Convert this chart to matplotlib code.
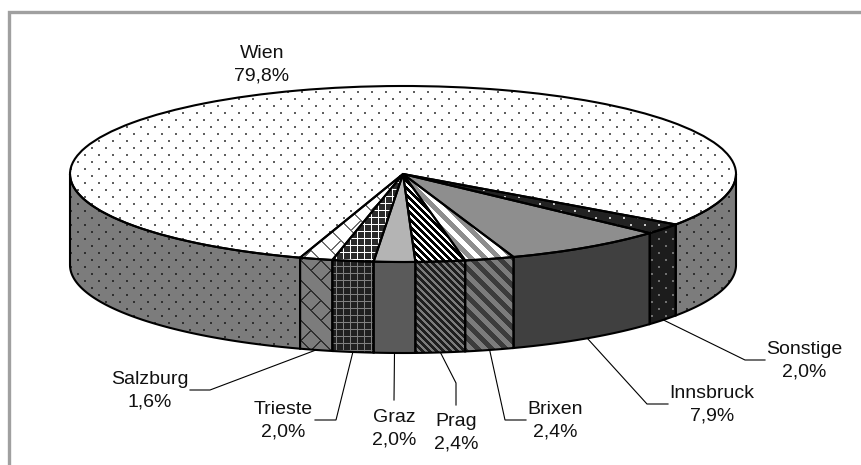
import numpy as np
import matplotlib
matplotlib.use('Agg')
import matplotlib.pyplot as plt
from matplotlib.patches import Polygon

plt.rcParams['font.family'] = ['Liberation Sans', 'DejaVu Sans']

# clockwise from the right hand end of Wien
names = ['Sonstige', 'Innsbruck', 'Brixen', 'Prag', 'Graz', 'Trieste', 'Salzburg', 'Wien']
shares = [2.0, 7.9, 2.4, 2.4, 2.0, 2.0, 1.6, 79.8]
shares_txt = ['2,0%', '7,9%', '2,4%', '2,4%', '2,0%', '2,0%', '1,6%', '79,8%']

W, H = 861, 465
CX, CY, RX, RY = 403, 174, 333, 88
DEPTH = 91

def xp(x):
    return (np.asarray(x, dtype=float) - CX) / RX

def yp(y):
    return (CY - np.asarray(y, dtype=float)) / RY

# pixel tile masks
X, Y = np.meshgrid(np.arange(W), np.arange(H))

def dots():
    return (Y % 7 < 2) & ((X + 7 * ((Y // 7) % 2)) % 14 < 2)

def stripes(period, width):
    return (X - Y) % period < width

def grid():
    return (X % 7 == 0) | (Y % 7 == 0)

def lattice():
    return ((X - Y) % 20 < 2) | (((X + Y) % 20 < 2) & ((X - Y) % 40 < 20))

# top colours (background, pattern), side colours, pattern
styles = {
    'Sonstige': ('#222222', '#c8c8c8', '#1c1c1c', '#707070', dots),
    'Innsbruck': ('#8e8e8e', '#8e8e8e', '#404040', '#404040', None),
    'Brixen': ('#ffffff', '#8e8e8e', '#7c7c7c', '#3c3c3c', lambda: stripes(14, 7)),
    'Prag': ('#ffffff', '#000000', '#7c7c7c', '#1e1e1e', lambda: stripes(7, 4)),
    'Graz': ('#b4b4b4', '#b4b4b4', '#5a5a5a', '#5a5a5a', None),
    'Trieste': ('#2a2a2a', '#ffffff', '#202020', '#808080', grid),
    'Salzburg': ('#ffffff', '#707070', '#7c7c7c', '#303030', lattice),
    'Wien': ('#ffffff', '#606060', '#7c7c7c', '#303030', dots),
}

# label centre, leader elbow, leader end (pixels)
label_pos = [(804, 361), (712, 405), (555, 421), (456, 433), (394, 429), (283, 421), (150, 391), (262, 65)]
elbows = [(745, 360), (647, 404), (505, 420), (456, 383), (394, 400), (336, 420), (210, 390), None]
ends = [(765, 360), (668, 404), (526, 420), (456, 405), (394, 400), (315, 420), (190, 390), None]

def tile(mask, c0, c1):
    rgb = np.zeros((H, W, 3))
    rgb[:] = matplotlib.colors.to_rgb(c0)
    if mask is not None:
        rgb[mask] = matplotlib.colors.to_rgb(c1)
    return rgb

def put_tile(ax, rgb, clip):
    im = ax.imshow(rgb, extent=(xp(0), xp(W), yp(H), yp(0)), aspect='auto',
                   interpolation='nearest', zorder=2)
    im.set_clip_path(clip)

fig = plt.figure(figsize=(W / 100, H / 100), dpi=100)
ax = fig.add_axes([0, 0, 1, 1])

wedges, _ = ax.pie(shares, startangle=325, counterclock=False, radius=1, center=(0, 0),
                   wedgeprops={'facecolor': 'none', 'edgecolor': 'black', 'linewidth': 1.5, 'zorder': 4})

drop = DEPTH / RY
for name, w in zip(names, wedges):
    top0, top1, side0, side1, pat = styles[name]
    mask = pat() if pat is not None else None
    put_tile(ax, tile(mask, top0, top1), w)

    # front wall, only the part of the arc facing the viewer
    for k in (-1, 0, 1):
        lo = max(w.theta1, 180 + 360 * k)
        hi = min(w.theta2, 360 + 360 * k)
        if hi <= lo:
            continue
        t = np.radians(np.linspace(lo, hi, 80))
        xs = np.cos(t)
        ys = np.sin(t)
        pts = np.column_stack([np.r_[xs, xs[::-1]], np.r_[ys, ys[::-1] - drop]])
        wall = Polygon(pts, closed=True, facecolor='none', edgecolor='black', linewidth=1.5, zorder=3)
        ax.add_patch(wall)
        put_tile(ax, tile(mask, side0, side1), wall)

for i, name in enumerate(names):
    ax.text(xp(label_pos[i][0]), yp(label_pos[i][1]), name + '\n' + shares_txt[i], ha='center', va='center',
            fontsize=14, color='#111111', linespacing=1.4, zorder=6)
    if elbows[i] is None:
        continue
    mid = np.radians((wedges[i].theta1 + wedges[i].theta2) / 2)
    ax.plot([np.cos(mid), xp(elbows[i][0]), xp(ends[i][0])],
            [np.sin(mid) - drop, yp(elbows[i][1]), yp(ends[i][1])],
            color='black', linewidth=0.8, zorder=1, solid_joinstyle='miter')

# only top and left edges of the frame are in the picture
ax.plot(xp([9, 9, W]), yp([H, 12, 12]), color='#a0a0a0', linewidth=2.4, zorder=1, solid_joinstyle='miter')

ax.set_aspect('auto')
ax.set_xlim(xp(0), xp(W))
ax.set_ylim(yp(H), yp(0))
ax.axis('off')
fig.savefig('out.png', dpi=100)
